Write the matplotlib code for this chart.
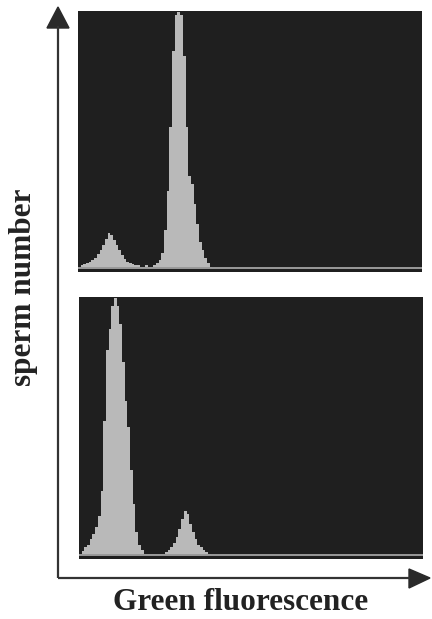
import numpy as np
import matplotlib
matplotlib.use("Agg")
import matplotlib.pyplot as plt
from matplotlib.patches import Polygon

# ---- data (channel bins of width 2, counts normalised to peak = 100) ----
bin_width = 2
n_channels = 256

# top panel: small peak (channels 0-56) then main peak (channels 56-100)
top_small = [0.5, 1, 1.5, 2, 2.5, 3, 4, 5.5, 7, 9, 11.5, 13.5, 13, 11,
             9, 7, 5, 3.5, 2.5, 2, 1.5, 1, 1, 0.5, 0.5, 1, 0.5, 0.5]
top_main = [1, 2, 3, 6, 15, 30, 55, 85, 99, 100, 99, 83, 55, 36,
            33, 25, 17, 10, 7, 4, 2, 0.5]

# bottom panel: main peak (channels 0-50), gap, small peak (channels 62-98)
bot_main = [0.5, 1.5, 3, 4, 6, 8, 11, 15, 25, 52, 80, 88, 97, 100,
            97, 90, 75, 60, 50, 33, 20, 9, 4, 2, 0.5]
bot_gap = [0.3, 0.3, 0.3, 0.3, 0.3, 0.3]
bot_small = [0.5, 1, 2, 3, 4.5, 7, 10, 14, 17, 16, 12, 9, 6, 4, 3, 2, 1, 0.5]

top_counts = top_small + top_main
bot_counts = bot_main + bot_gap + bot_small

x_label = "Green fluorescence"
y_label = "sperm number"

# ---- styling ----
panel_bg = "#1f1f1f"
hist_col = "#b9b9b9"
base_col = "#9a9a9a"
ink = "#222222"

W, H = 432, 619
fig = plt.figure(figsize=(W / 100, H / 100), dpi=100)
fig.patch.set_facecolor("white")


def px_axes(left, top, right, bottom):
    return fig.add_axes([left / W, 1 - bottom / H, (right - left) / W,
                         (bottom - top) / H])


def draw_panel(ax, counts):
    edges = np.arange(len(counts) + 1) * bin_width
    ax.set_facecolor(panel_bg)
    ax.stairs(counts, edges, fill=True, color=hist_col, linewidth=0)
    ax.axhline(0, color=base_col, lw=1.4, zorder=3)
    ax.set_xlim(0, n_channels)
    ax.set_ylim(-1.6, 100.5)
    ax.set_xticks([])
    ax.set_yticks([])
    for s in ax.spines.values():
        s.set_visible(False)


ax_top = px_axes(78, 11, 422, 272)
draw_panel(ax_top, top_counts)
ax_bot = px_axes(79, 297, 423, 559)
draw_panel(ax_bot, bot_counts)

# overlay for axis arrows and labels (pixel coordinates)
ov = fig.add_axes([0, 0, 1, 1], facecolor="none")
ov.set_xlim(0, W)
ov.set_ylim(H, 0)
ov.axis("off")

ox, oy = 58, 578
ov.plot([ox, ox], [oy, 26], color="#333333", lw=1.6, solid_capstyle="butt")
ov.plot([ox, 410], [oy, oy], color="#333333", lw=1.6, solid_capstyle="butt")
ov.add_patch(Polygon([[ox, 7], [47, 28], [69, 28]], closed=True,
                     color="#2a2a2a"))
ov.add_patch(Polygon([[430, oy], [409, 569], [409, 588]], closed=True,
                     color="#2a2a2a"))

font = dict(family="Liberation Serif", weight="bold", size=22.5, color=ink)
ov.text(241, 603, x_label, ha="center", va="center", **font)
ov.text(24, 287, y_label, ha="center", va="center", rotation=90, **font)

fig.savefig("out.png", dpi=100, facecolor="white")
